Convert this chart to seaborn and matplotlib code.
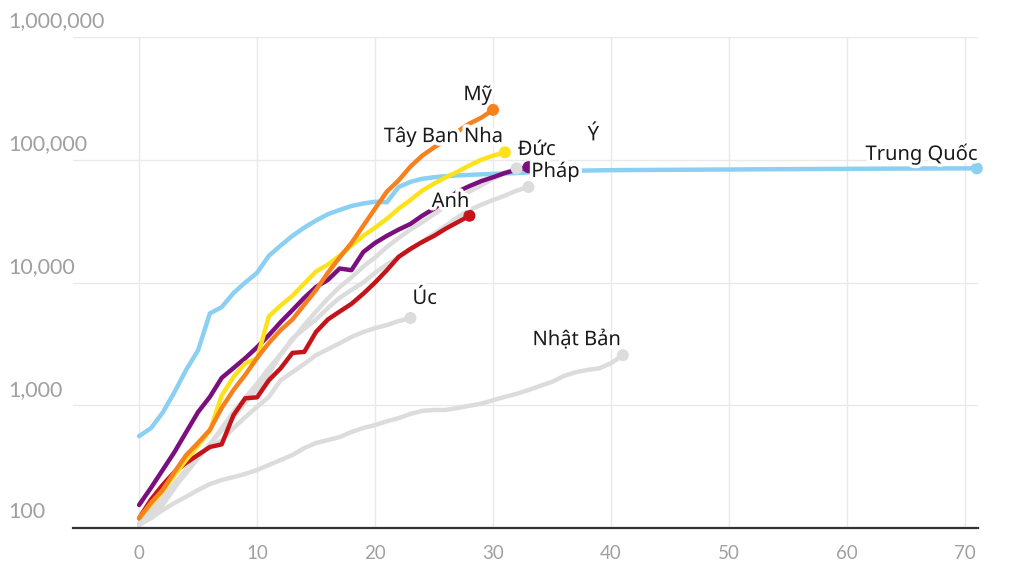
import pandas as pd
import seaborn as sns
import matplotlib.pyplot as plt
import matplotlib.patheffects as pe
from matplotlib.ticker import NullLocator

# so ca nhiem tich luy, ngay 0 = ngay dat 100 ca
trung_quoc = [560, 650, 870, 1280, 1950, 2800, 5600, 6300, 8200, 10000,
              12000, 16500, 20000, 24000, 28000, 32000, 36000, 39000, 42000, 44000,
              45500, 45000, 60000, 66000, 70000, 72000, 73500, 74500, 75300, 76000,
              76700, 77300, 78000, 78800, 79500, 80200, 80800, 81300, 81700, 82000,
              82200, 82400, 82500, 82600, 82700, 82800, 82900, 83000, 83100, 83200,
              83300, 83400, 83500, 83600, 83700, 83800, 83900, 84000, 84100, 84200,
              84300, 84400, 84500, 84600, 84700, 84800, 84850, 84900, 84950, 85000,
              85050, 85100]
my = [120, 160, 204, 286, 393, 494, 630, 950, 1330, 1770,
      2430, 3220, 4100, 5000, 6600, 8700, 12000, 16000, 21000, 29000,
      40000, 55000, 68000, 88000, 108000, 126000, 145000, 170000, 197000, 220000,
      255000]
duc = [120, 155, 200, 270, 360, 470, 620, 1200, 1700, 2200,
       2400, 5300, 6500, 7800, 9800, 12300, 14000, 16500, 20000, 24000,
       28000, 33000, 40000, 47000, 56000, 64000, 72000, 80000, 90000, 100000,
       108000, 115000]
phap = [154, 212, 297, 416, 606, 880, 1170, 1670, 2010, 2420,
        2970, 3720, 4760, 5960, 7500, 9200, 10500, 13000, 12600, 17700,
        21000, 24000, 27000, 30000, 35000, 40000, 47000, 55000, 61000, 67000,
        72000, 78000, 83000, 87000]
anh = [120, 170, 224, 286, 340, 394, 457, 480, 830, 1140,
       1160, 1600, 2000, 2670, 2720, 3960, 5000, 5800, 6700, 8100,
       10000, 12600, 16200, 18800, 21400, 24000, 27500, 31000, 35000]
uc = [106, 128, 154, 212, 297, 394, 457, 520, 650, 800,
      970, 1170, 1600, 1860, 2170, 2560, 2860, 3200, 3600, 3950,
      4250, 4500, 4850, 5140]
nhat_ban = [106, 120, 140, 160, 180, 204, 228, 246, 260, 276,
            297, 326, 358, 393, 448, 493, 520, 550, 606, 653,
            690, 740, 786, 850, 900, 915, 915, 950, 990, 1030,
            1100, 1170, 1240, 1330, 1440, 1550, 1730, 1860, 1940, 2000,
            2200, 2560]
xam_1 = [110, 140, 180, 230, 300, 380, 480, 620, 800, 1050,
         1350, 1800, 2600, 3500, 4200, 5000, 6200, 7500, 8700, 10000,
         12000, 14000, 16000, 18500, 21500, 25000, 29000, 34000, 39000, 43000,
         47000, 51000, 56000, 60000]
xam_2 = [105, 130, 165, 215, 280, 370, 480, 650, 880, 1150,
         1500, 2000, 2600, 3400, 4500, 5800, 7400, 9200, 11000, 13500,
         16000, 19500, 23000, 27000, 31000, 36000, 42000, 48000, 55000, 62000,
         70000, 78000, 85000]

series = {
    'xam_1': xam_1, 'xam_2': xam_2, 'Úc': uc, 'Nhật Bản': nhat_ban,
    'Trung Quốc': trung_quoc, 'Anh': anh, 'Pháp': phap, 'Đức': duc, 'Mỹ': my,
}
palette = {
    'xam_1': '#dcdcdc', 'xam_2': '#dcdcdc', 'Úc': '#dcdcdc', 'Nhật Bản': '#dcdcdc',
    'Trung Quốc': '#8bcff2', 'Anh': '#c4141a', 'Pháp': '#7b0f7e',
    'Đức': '#fde21b', 'Mỹ': '#f5821f',
}

label_text = ['Mỹ', 'Tây Ban Nha', 'Đức', 'Pháp', 'Ý', 'Trung Quốc', 'Anh', 'Úc', 'Nhật Bản']
label_x = [28.7, 25.8, 33.7, 35.3, 38.5, 71.1, 26.4, 24.2, 37.1]
label_y = [336000, 153000, 120000, 79400, 158000, 111000, 45300, 7350, 3400]
label_ha = ['center', 'center', 'center', 'center', 'center', 'right', 'center', 'center', 'center']

y_ticks = [100, 1000, 10000, 100000, 1000000]
y_labels = ['100', '1,000', '10,000', '100,000', '1,000,000']
x_ticks = list(range(0, 71, 10))

rows = []
for name, vals in series.items():
    for day, v in enumerate(vals):
        rows.append((name, day, v))
df = pd.DataFrame(rows, columns=['country', 'day', 'cases'])
ends = df.groupby('country', sort=False).tail(1)

sns.set_theme(style='white')
plt.rcParams['font.family'] = ['Noto Sans', 'DejaVu Sans']

fig = plt.figure(figsize=(10.24, 5.87), dpi=100)
ax = fig.add_axes([73 / 1024, 1 - 528 / 587, 905 / 1024, 491 / 587])

sns.lineplot(data=df, x='day', y='cases', hue='country', hue_order=list(series),
             palette=palette, linewidth=3.2, legend=False, ax=ax,
             solid_joinstyle='round', solid_capstyle='round')
sns.scatterplot(data=ends, x='day', y='cases', hue='country', hue_order=list(series),
                palette=palette, s=75, linewidth=0, legend=False, ax=ax,
                zorder=4, clip_on=False)

ax.set_yscale('log')
ax.set_ylim(100, 1000000)
ax.set_xlim(-5.6, 71.1)
ax.set_yticks(y_ticks)
ax.yaxis.set_minor_locator(NullLocator())
ax.set_yticklabels([])
ax.set_xticks(x_ticks)
ax.set_xticklabels([str(t) for t in x_ticks], color='#a0a0a0', fontsize=13.5,
                   family=['Lato', 'DejaVu Sans'])
ax.tick_params(length=0, pad=12)
ax.set_xlabel('')
ax.set_ylabel('')
ax.set_axisbelow(True)
ax.grid(True, color='#e9e9e9', linewidth=1)
for side in ['top', 'right', 'left']:
    ax.spines[side].set_visible(False)
ax.spines['bottom'].set_color('#333333')
ax.spines['bottom'].set_linewidth(1.6)
ax.spines['bottom'].set_zorder(5)

for v, t in zip(y_ticks, y_labels):
    ax.annotate(t, xy=(-0.072, v), xycoords=ax.get_yaxis_transform(),
                xytext=(0, 4), textcoords='offset points', ha='left', va='bottom',
                color='#a0a0a0', fontsize=15.5, family=['Lato', 'DejaVu Sans'],
                annotation_clip=False)

halo = [pe.withStroke(linewidth=5, foreground='white')]
for t, x, y, ha in zip(label_text, label_x, label_y, label_ha):
    ax.text(x, y, t, ha=ha, va='center', fontsize=14.5, color='#1a1a1a',
            path_effects=halo, zorder=6, clip_on=False)

fig.savefig('out.png', dpi=100)
